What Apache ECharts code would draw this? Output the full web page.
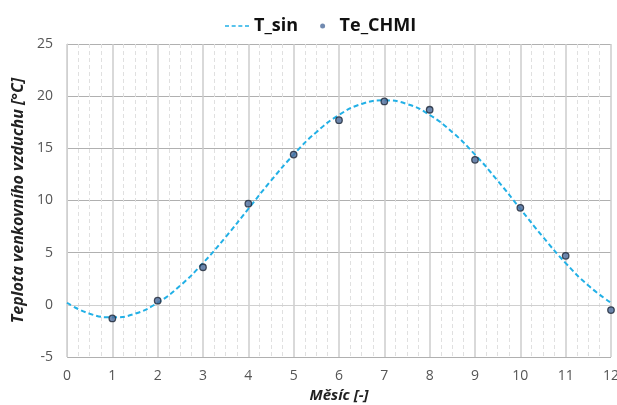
<!DOCTYPE html>
<html><head><meta charset="utf-8">
<script src="https://cdn.jsdelivr.net/npm/echarts@6/dist/echarts.min.js"></script>
<style>html,body{margin:0;padding:0;background:#fff}#c{width:617px;height:405px}</style>
</head><body><div id="c"></div>
<script>
const sinX = [0,0.5,1,1.5,2,2.5,3,3.5,4,4.5,5,5.5,6,6.5,7,7.5,8,8.5,9,9.5,10,10.5,11,11.5,12];
const sinY = [0.2,-0.85,-1.2,-0.85,0.2,1.85,4.0,6.5,9.2,11.9,14.4,16.55,18.2,19.25,19.6,19.25,18.2,16.55,14.4,11.9,9.2,6.5,4.0,1.85,0.2];
const months = [1,2,3,4,5,6,7,8,9,10,11,12];
const chmi = [-1.3,0.4,3.6,9.7,14.4,17.7,19.5,18.7,13.9,9.3,4.7,-0.5];

const font = "'Open Sans', 'Liberation Sans', sans-serif";
const chart = echarts.init(document.getElementById('c'), null, {renderer:'canvas'});
chart.setOption({
  animation:false,
  legend:{
    top:12, left:220, itemGap:22,
    textStyle:{fontFamily:font, fontSize:18, fontWeight:'bold', color:'#111'},
    data:[
      {name:'T_sin', icon:'path://M0,0h3v1h-3zM5,0h3v1h-3zM10,0h3v1h-3zM15,0h3v1h-3z'},
      {name:'Te_CHMI', icon:'circle', itemStyle:{borderWidth:0}}
    ],
    itemWidth:24, itemHeight:5
  },
  grid:{left:67, right:6, top:44, bottom:48, outerBoundsMode:'none', containLabel:false},
  xAxis:{
    type:'value', min:0, max:12, interval:1,
    name:'Měsíc [-]', nameLocation:'middle', nameGap:24,
    nameTextStyle:{fontFamily:font, fontSize:15, fontWeight:'bold', fontStyle:'italic', color:'#222'},
    axisLine:{show:true, lineStyle:{color:'#d0d0d0'}},
    axisTick:{show:false},
    axisLabel:{fontFamily:font, fontSize:14, color:'#555', margin:12},
    splitLine:{show:true, lineStyle:{color:'#cccccc', width:1.5}},
    minorTick:{show:false, splitNumber:4},
    minorSplitLine:{show:true, lineStyle:{color:'#e0e0e0', type:[4,3], width:1}}
  },
  yAxis:{
    type:'value', min:-5, max:25, interval:5,
    name:'Teplota venkovního vzduchu [°C]', nameLocation:'middle', nameGap:38,
    nameTextStyle:{fontFamily:font, fontSize:16, fontWeight:'bold', fontStyle:'italic', color:'#222'},
    axisLine:{show:true, lineStyle:{color:'#d0d0d0'}},
    axisTick:{show:false},
    axisLabel:{fontFamily:font, fontSize:14, color:'#555', margin:14},
    splitLine:{show:true, lineStyle:{color:'#b0b0b0', width:1}}
  },
  series:[
    {
      name:'T_sin', type:'line', smooth:true, showSymbol:false, symbol:'none',
      lineStyle:{color:'#22b0e6', width:2, type:[5,3]},
      itemStyle:{color:'#22b0e6'},
      data: sinX.map((x,i)=>[x, sinY[i]]), z:2
    },
    {
      name:'Te_CHMI', type:'scatter', symbol:'circle', symbolSize:6.5,
      itemStyle:{color:'#4e6d9c', borderColor:'#1b2636', borderWidth:1.3},
      data: months.map((m,i)=>[m, chmi[i]]), z:3
    }
  ]
});
</script></body></html>
